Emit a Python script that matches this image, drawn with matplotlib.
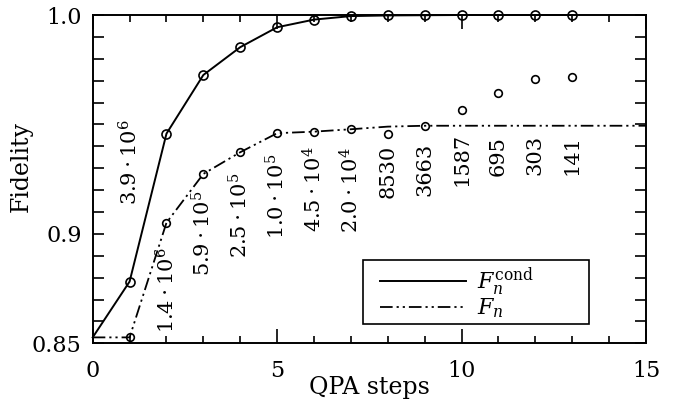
import matplotlib
matplotlib.use("Agg")
import matplotlib.pyplot as plt
from matplotlib.patches import Rectangle
import numpy as np

# ---- data ----
steps_cond = [0, 1, 2, 3, 4, 5, 6, 7, 8, 9, 10, 11, 12, 13]
F_cond = [0.8527, 0.8782, 0.9458, 0.9726, 0.9853, 0.9944, 0.9979,
          0.9995, 0.9998, 0.9999, 1.0, 1.0, 1.0, 1.0]

steps_n = [1, 2, 3, 4, 5, 6, 7, 8, 9, 10, 11, 12, 13]
F_n = [0.8527, 0.9051, 0.9274, 0.9373, 0.9460, 0.9467, 0.9478,
       0.9458, 0.9494, 0.9566, 0.9645, 0.9706, 0.9718]

steps_n_curve = [0, 1, 2, 3, 4, 5, 6, 7, 8, 9, 10, 11, 12, 13, 14, 15]
F_n_curve = [0.8527, 0.8527, 0.9051, 0.9274, 0.9373, 0.9460, 0.9467, 0.9478,
             0.9490, 0.9494, 0.9494, 0.9494, 0.9494, 0.9494, 0.9494, 0.9494]

label_steps = [1, 2, 3, 4, 5, 6, 7, 8, 9, 10, 11, 12, 13]
label_texts = [r'$3.9\cdot10^6$', r'$1.4\cdot10^6$', r'$5.9\cdot10^5$',
               r'$2.5\cdot10^5$', r'$1.0\cdot10^5$', r'$4.5\cdot10^4$',
               r'$2.0\cdot10^4$', '8530', '3663', '1587', '695', '303', '141']
label_y = [0.9326, 0.8744, 0.9004, 0.9086, 0.9173, 0.9205, 0.9200,
           0.9287, 0.9296, 0.9342, 0.9356, 0.9361, 0.9361]

# ---- style ----
plt.rcParams['font.family'] = ['DejaVu Serif']
plt.rcParams['mathtext.fontset'] = 'dejavuserif'

fig = plt.figure(figsize=(6.74, 4.0), dpi=100)
ax = fig.add_axes([92.7 / 674, 1 - 343.3 / 400, (646 - 92.7) / 674, (343.3 - 15) / 400])

ax.plot(steps_cond, F_cond, color='black', lw=1.4, label=r'$F_n^{\rm cond}$',
        zorder=3, clip_on=False)
ax.plot(steps_cond[1:], F_cond[1:], linestyle='none', marker='o', ms=6.5,
        mfc='none', mec='black', mew=1.2, clip_on=False, zorder=4)

dd = (7, 2.2, 1.2, 2.2, 1.2, 2.2)
ax.plot(steps_n_curve, F_n_curve, color='black', lw=1.3, dashes=dd,
        label=r'$F_n$', zorder=3)
ax.plot(steps_n, F_n, linestyle='none', marker='o', ms=5.5,
        mfc='none', mec='black', mew=1.2, clip_on=False, zorder=4)

for s, t, y in zip(label_steps, label_texts, label_y):
    ax.text(s, y, t, rotation=90, ha='center', va='center', fontsize=15)

ax.set_xlim(0, 15)
ax.set_ylim(0.85, 1.0)
ax.set_xticks([0, 5, 10, 15])
ax.set_xticks(np.arange(0, 16, 1), minor=True)
ax.set_yticks([0.85, 0.9, 1.0])
ax.set_yticklabels(['0.85', '0.9', '1.0'])
ax.set_yticks(np.arange(0.85, 1.0001, 0.01), minor=True)
ax.tick_params(axis='both', which='both', direction='in', top=True, right=True,
               labelsize=16, width=1.2)
ax.tick_params(axis='x', which='major', length=10, pad=12)
ax.tick_params(axis='x', which='minor', length=5)
ax.tick_params(axis='y', which='major', length=8, pad=8)
ax.tick_params(axis='y', which='minor', length=8)
for sp in ax.spines.values():
    sp.set_linewidth(1.4)

ax.set_xlabel('QPA steps', fontsize=17, labelpad=-4)
ax.set_ylabel('Fidelity', fontsize=17)
ax.yaxis.set_label_coords(-0.108, 0.54)

# legend frame (drawn separately so the entries can sit with extra left padding)
W, H = 553.3, 328.3
ax.add_patch(Rectangle(((363 - 92.7) / W, (343.3 - 324) / H), (589 - 363) / W, (324 - 260) / H,
                       transform=ax.transAxes, facecolor='white', edgecolor='black',
                       lw=1.2, zorder=5))
leg = ax.legend(loc='center left', bbox_to_anchor=((380 - 92.7) / W, (343.3 - 292.5) / H),
                frameon=False, fontsize=16, handlelength=3.85, borderpad=0,
                labelspacing=-0.05, handletextpad=0.5, borderaxespad=0)
leg.set_zorder(6)

fig.savefig('out.png', dpi=100)
